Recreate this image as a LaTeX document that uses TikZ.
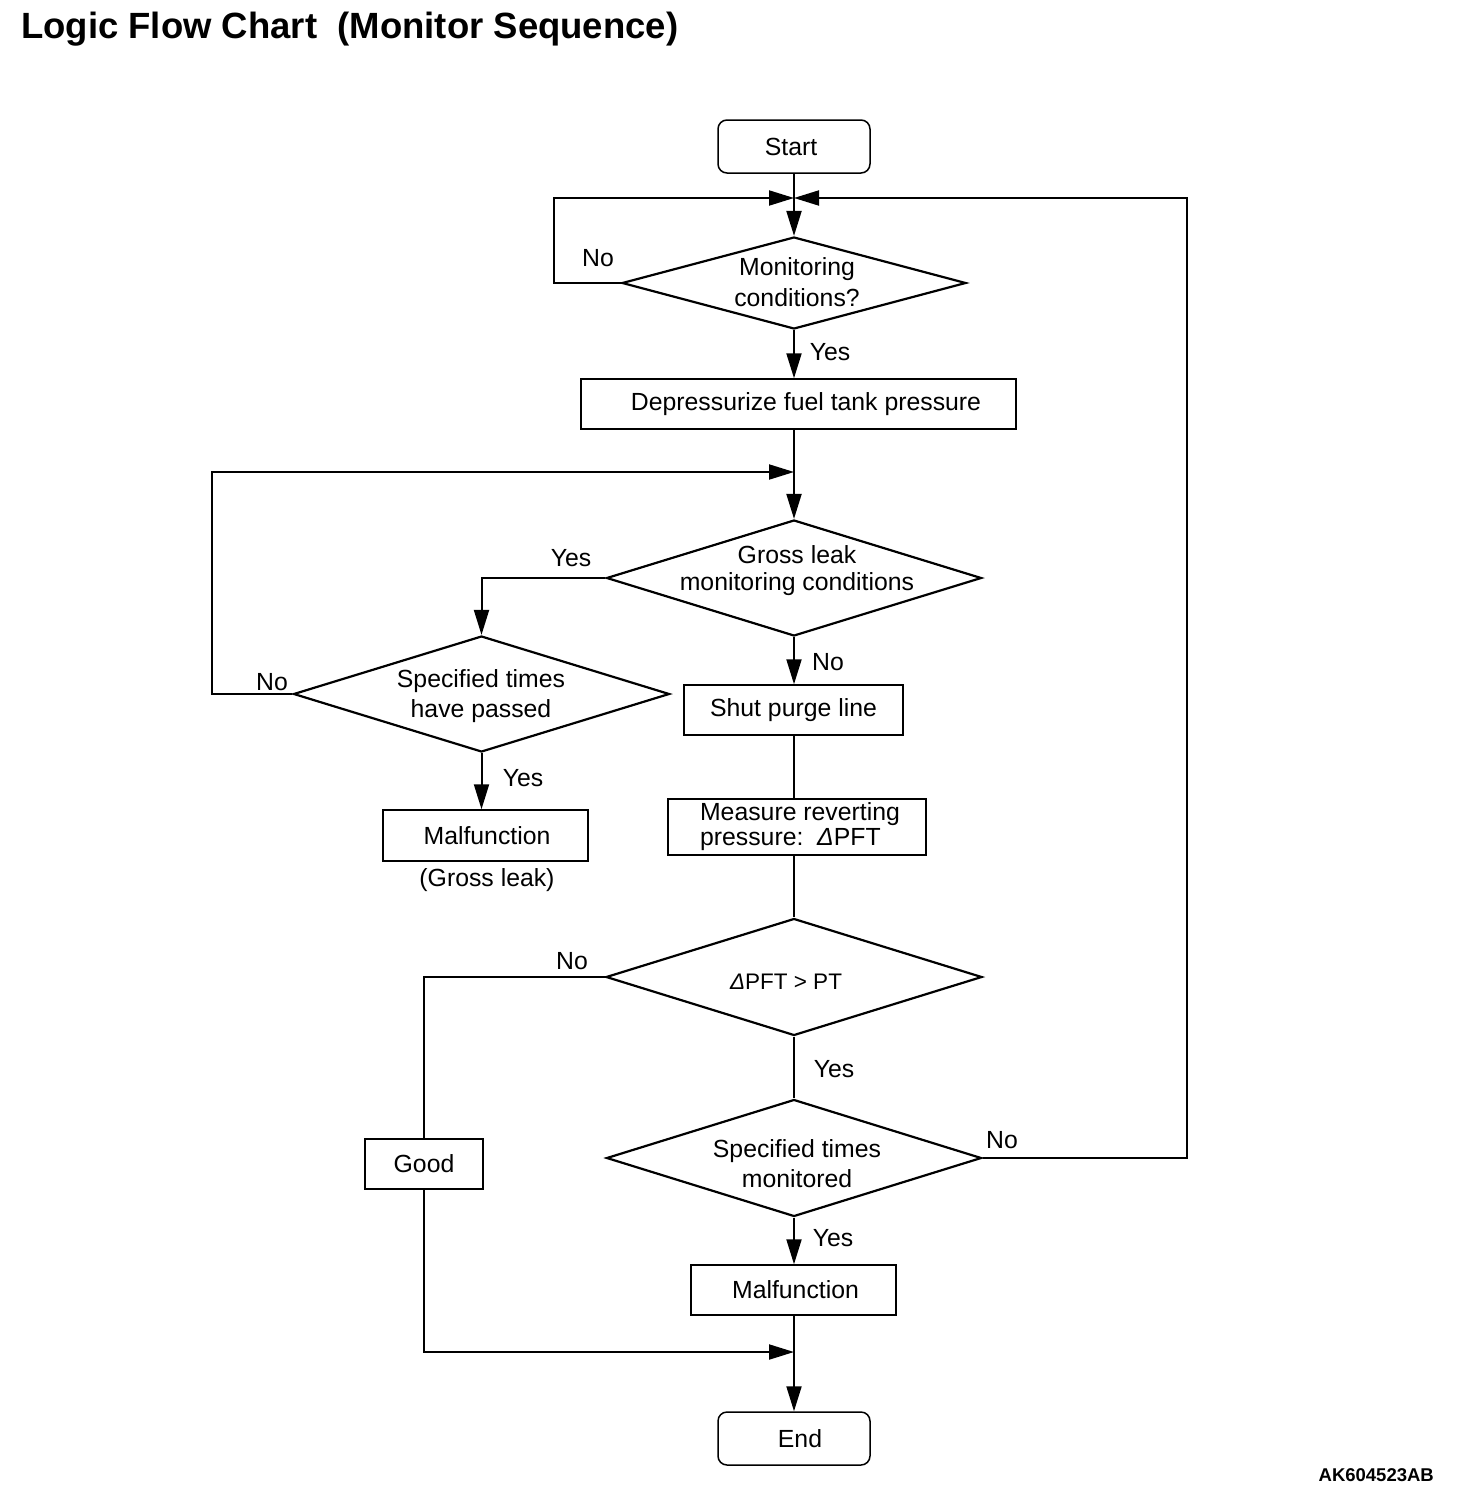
\documentclass[tikz,border=0pt]{standalone}
\usepackage{fontspec}
\setmainfont{Liberation Sans}
\usetikzlibrary{arrows.meta,shapes.geometric}
\tikzset{
  conn/.style={line width=2pt},
  arr/.style={conn,-{Triangle[length=25pt,width=15pt]}},
  box/.style={draw,line width=1.5pt,inner sep=0pt,font=\fontsize{24.8}{29}\selectfont},
  term/.style={box,rounded corners=9pt,minimum width=152pt,minimum height=53pt},
  dia/.style={draw,diamond,line width=2.2pt,inner sep=0pt},
  txt/.style={inner sep=0pt,align=center,font=\fontsize{24.8}{30}\selectfont},
  lbl/.style={inner sep=0pt,font=\fontsize{24.8}{29}\selectfont},
}
\begin{document}
\begin{tikzpicture}[x=1pt,y=-1pt]
\useasboundingbox (0,0) rectangle (1472,1496);

\node[inner sep=0pt,anchor=west,font=\bfseries\fontsize{36.5}{40}\selectfont] (title) at (21,29) {Logic Flow Chart\ \ (Monitor Sequence)};
\node[inner sep=0pt,anchor=east,font=\bfseries\fontsize{18.5}{22}\selectfont] (code) at (1434,1475) {AK604523AB};

% nodes
\node[term] (start) at (794,146.5) {\hspace{-6pt}Start};
\coordinate (j1) at (794,198);
\node[dia,minimum width=344pt,minimum height=92pt] (d1) at (794,283) {};
\node[txt,font=\fontsize{24.8}{31}\selectfont] (t1) at (797,282) {Monitoring\\conditions?};
\node[box,minimum width=435pt,minimum height=50pt] (b1) at (798.5,404) {\hspace{15pt}Depressurize fuel tank pressure};
\coordinate (j2) at (794,472);
\node[dia,minimum width=375pt,minimum height=116pt] (d2) at (794,578) {};
\node[txt,font=\fontsize{24.8}{27}\selectfont] (t2) at (797,571) {Gross leak\\monitoring conditions};
\node[dia,minimum width=376pt,minimum height=116pt] (d3) at (481.5,694) {};
\node[txt] (t3) at (481,696) {Specified times\\have passed};
\node[box,minimum width=205pt,minimum height=51pt] (m1) at (485.5,835.5) {\hspace{3pt}Malfunction};
\node[lbl] (gl) at (487,880) {(Gross leak)};
\node[box,minimum width=219pt,minimum height=50pt] (shut) at (793.5,710) {Shut purge line};
\node[box,minimum width=258pt,minimum height=56pt] (meas) at (797,827) {};
\node[txt,align=left,font=\fontsize{24.8}{25}\selectfont] (tm) at (800,827) {Measure reverting\\pressure:\ \ \textit{Δ}PFT};
\node[dia,minimum width=376pt,minimum height=117pt] (d4) at (794,977) {};
\node[txt,font=\fontsize{22.5}{26}\selectfont] (t4) at (786,982) {\textit{Δ}PFT \textgreater{} PT};
\node[box,minimum width=118pt,minimum height=50pt] (good) at (424,1164) {Good};
\node[dia,minimum width=375pt,minimum height=117pt] (d5) at (794,1158) {};
\node[txt] (t5) at (797,1164) {Specified times\\monitored};
\node[box,minimum width=205pt,minimum height=50pt] (m2) at (793.5,1290) {\hspace{4pt}Malfunction};
\coordinate (j3) at (794,1352);
\node[term] (endn) at (794,1438.5) {\hspace{12pt}End};

% connectors
\draw[arr] (start) -- (d1.north);
\draw[arr] (d1.west) -- ++(-67,0) |- (j1);
\draw[arr] (d5.east) -- (1187,1158) |- (j1);
\draw[arr] (d1.south) -- (d1.south |- b1.north);
\draw[arr] (b1.south -| d2.north) -- (d2.north);
\draw[arr] (d3.west) -- ++(-80,0) |- (j2);
\draw[arr] (d2.west) -| (d3.north);
\draw[arr] (d3.south) -- (d3.south |- m1.north);
\draw[arr] (d2.south) -- (d2.south |- shut.north);
\draw[conn] (shut.south -| d2.south) -- (d2.south |- meas.north);
\draw[conn] (meas.south -| d4.north) -- (d4.north);
\draw[conn] (d4.west) -| (good.north);
\draw[arr] (good.south) |- (j3);
\draw[conn] (d4.south) -- (d5.north);
\draw[arr] (d5.south) -- (d5.south |- m2.north);
\draw[arr] (m2.south -| endn.north) -- (endn.north);

% labels
\node[lbl] (l1) at (598,258) {No};
\node[lbl] (l2) at (830,352) {Yes};
\node[lbl] (l3) at (571,558) {Yes};
\node[lbl] (l4) at (272,682) {No};
\node[lbl] (l5) at (828,662) {No};
\node[lbl] (l6) at (523,778) {Yes};
\node[lbl] (l7) at (572,961) {No};
\node[lbl] (l8) at (834,1069) {Yes};
\node[lbl] (l9) at (1002,1140) {No};
\node[lbl] (l10) at (833,1238) {Yes};
\end{tikzpicture}
\end{document}
